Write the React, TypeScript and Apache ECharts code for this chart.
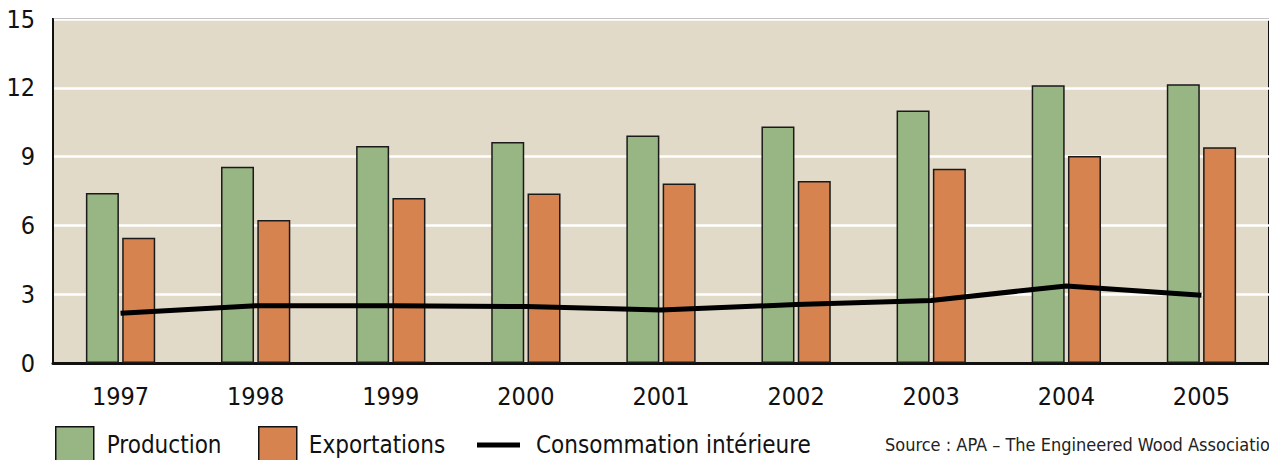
import React, { useEffect, useRef } from "react";
import * as echarts from "echarts";

const years = ["1997", "1998", "1999", "2000", "2001", "2002", "2003", "2004", "2005"];
const production = [7.41, 8.56, 9.46, 9.64, 9.92, 10.31, 11.01, 12.11, 12.15];
const exportations = [5.46, 6.24, 7.2, 7.39, 7.83, 7.94, 8.47, 9.03, 9.41];
const consommation = [2.17, 2.5, 2.5, 2.46, 2.31, 2.55, 2.73, 3.36, 2.95];
const seriesNames = ["Production", "Exportations", "Consommation intérieure"];
const sourceText = "Source : APA – The Engineered Wood Association";

const FONT = "'DejaVu Sans Condensed', 'Liberation Sans Narrow', sans-serif";

export default function App() {
  const ref = useRef<HTMLDivElement>(null);
  useEffect(() => {
    if (!ref.current) return;
    const chart = echarts.init(ref.current, null, { renderer: "svg" });
    const legendText = { fontFamily: FONT, fontSize: 24, color: "#111" };
    chart.setOption({
      animation: false,
      backgroundColor: "#ffffff",
      grid: {
        left: 53,
        top: 19,
        right: -3,
        bottom: 97,
        show: true,
        backgroundColor: "#e2dac8",
        borderColor: "#111",
        borderWidth: 2,
      },
      legend: [
        {
          data: [seriesNames[0]],
          left: 55,
          top: 426,
          padding: 0,
          itemWidth: 38,
          itemHeight: 36,
          icon: "rect",
          itemStyle: { borderColor: "#111", borderWidth: 1.5 },
          textStyle: { ...legendText, padding: [0, 0, 0, 8] },
          selectedMode: false,
        },
        {
          data: [seriesNames[1]],
          left: 258,
          top: 426,
          padding: 0,
          itemWidth: 38,
          itemHeight: 36,
          icon: "rect",
          itemStyle: { borderColor: "#111", borderWidth: 1.5 },
          textStyle: { ...legendText, padding: [0, 0, 0, 7] },
          selectedMode: false,
        },
        {
          data: [seriesNames[2]],
          left: 477,
          top: 433,
          padding: 0,
          itemWidth: 43,
          itemHeight: 5,
          icon: "rect",
          textStyle: { ...legendText, padding: [0, 0, 0, 11] },
          selectedMode: false,
        },
      ],
      graphic: [
        {
          type: "text",
          left: 885,
          top: 435,
          style: {
            text: sourceText,
            fontFamily: FONT,
            fontSize: 18,
            fill: "#222",
          },
        },
      ],
      xAxis: {
        type: "category",
        data: years,
        axisLine: { lineStyle: { color: "#111", width: 3 } },
        axisTick: { show: false },
        axisLabel: { fontFamily: FONT, fontSize: 25, color: "#111", margin: 21 },
        splitLine: { show: false },
      },
      yAxis: {
        type: "value",
        min: 0,
        max: 15,
        interval: 3,
        axisLine: { show: true, lineStyle: { color: "#111", width: 2 } },
        axisTick: { show: false },
        axisLabel: { fontFamily: FONT, fontSize: 25, color: "#111", margin: 18, padding: [8, 0, 0, 0] },
        splitLine: { show: true, lineStyle: { color: "#ffffff", width: 2.5 } },
      },
      series: [
        {
          name: seriesNames[0],
          type: "bar",
          data: production,
          barWidth: 33,
          barGap: "10%",
          itemStyle: { color: "#98b683", borderColor: "#1a1a1a", borderWidth: 1.5 },
        },
        {
          name: seriesNames[1],
          type: "bar",
          data: exportations,
          barWidth: 33,
          barGap: "10%",
          itemStyle: { color: "#d6834f", borderColor: "#1a1a1a", borderWidth: 1.5 },
        },
        {
          name: seriesNames[2],
          type: "line",
          data: consommation,
          symbol: "none",
          z: 5,
          itemStyle: { color: "#000" },
          lineStyle: { color: "#000", width: 5 },
        },
      ],
    });
    return () => chart.dispose();
  }, []);
  return (
    <div
      ref={ref}
      style={{ position: "fixed", left: 0, top: 0, width: 1269, height: 460 }}
    />
  );
}
